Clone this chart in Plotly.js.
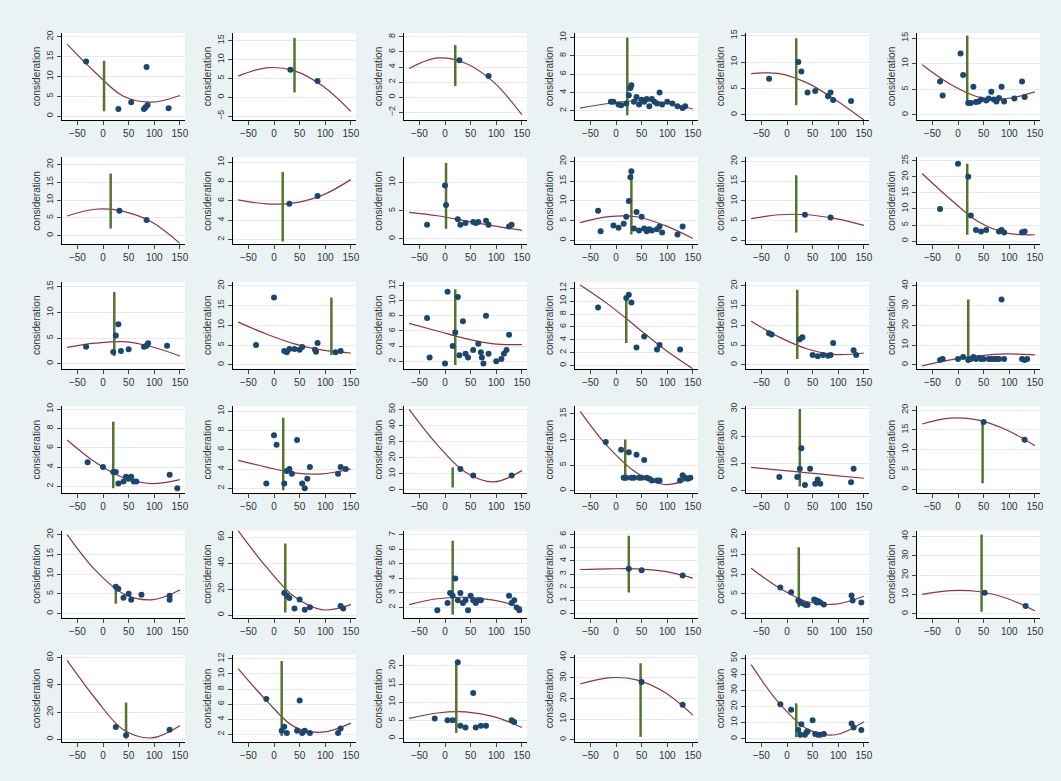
<!DOCTYPE html>
<html>
<head>
<meta charset="utf-8">
<script src="https://cdn.plot.ly/plotly-3.0.1.min.js"></script>
<style>body{margin:0;background:#eaf2f3}</style>
</head>
<body>
<div id="plot" style="width:1061px;height:781px"></div>
<script>
// x positions where the fitted curve was read
const curveX = [-70, -15, 40, 95, 150];

// one entry per panel: y range, tick step, points, vertical line [x, y0, y1], curve y values
const yRanges = [
  [-1,21],[-6,17],[-3,8.5],[1,10.5],[-1,15.5],[-1,16],
  [-2.5,22],[1.5,10.5],[-1,14.5],[-1,21],[-1,21],[-1,26],
  [-1,16],[-1,21],[1,12.5],[-0.5,13],[-1,21],[-2,42],
  [1.3,10.3],[1.5,10.5],[-2,52],[-0.5,16.5],[-1,31],[-1,21],
  [-1,21],[-2,65],[1.3,7.3],[-0.3,6.3],[-1,21],[-2,43],
  [-2,62],[1,12.5],[-1,23],[-1,41],[-2,52]
];
const yTicks = [5,5,2,2,5,5, 5,2,5,5,5,5, 5,5,2,2,5,10, 2,2,10,5,10,5, 5,20,1,1,5,10, 20,2,5,10,10];

const points = [
  [[-33,13.8],[30,1.8],[55,3.5],[80,1.8],[83,2.2],[85,12.4],[87,2.8],[128,2]],
  [[32,7.3],[85,4.3]],
  [[28,4.9],[85,2.8]],
  [[-10,3],[-5,3],[5,2.7],[10,2.6],[20,2.8],[25,3.7],[28,4.5],[30,4.8],[35,3],[40,3.5],[45,2.7],[50,3.2],[55,3],[60,3.3],[65,2.5],[70,3.3],[75,3],[80,2.8],[85,4],[90,2.7],[100,3],[110,2.8],[120,2.5],[130,2.3],[135,2.5]],
  [[-35,6.8],[22,10],[28,8.2],[40,4.2],[55,4.5],[80,3.5],[85,4.2],[90,2.8],[125,2.6]],
  [[-35,6.5],[-30,3.8],[5,12],[10,7.8],[20,2.3],[25,2.3],[30,5.5],[35,2.5],[40,2.6],[45,3],[55,2.8],[60,3.2],[65,4.5],[70,3],[75,2.6],[80,3.3],[85,5.5],[90,2.6],[110,3.2],[125,6.5],[130,3.5]],
  [[32,7],[85,4.4]],
  [[30,5.7],[85,6.5]],
  [[-35,2.5],[0,9.5],[2,6],[25,3.5],[30,2.5],[40,2.8],[55,3],[60,2.8],[65,3],[80,3.2],[85,2.5],[125,2.2],[130,2.5]],
  [[-35,7.5],[-30,2.3],[-5,3.8],[5,3.2],[15,4.2],[20,6],[25,10],[28,16],[30,17.5],[35,3],[40,7.2],[45,2.5],[50,6],[55,3],[60,2.3],[65,2.8],[70,2.5],[80,2.8],[85,3.5],[90,2],[120,1.5],[130,3.5]],
  [[35,6.5],[85,5.8]],
  [[-35,10],[0,24],[20,20],[25,8],[35,3.5],[45,3],[55,3.5],[80,3],[85,3.5],[90,2.7],[125,2.8],[130,3]],
  [[-33,3.3],[20,2.3],[25,5.5],[30,7.7],[35,2.5],[50,2.8],[80,3.3],[85,3.5],[88,4],[125,3.5]],
  [[-35,5],[0,17],[20,3.5],[25,3.2],[30,4],[40,4],[50,3.8],[55,4.5],[80,3.8],[82,3.3],[85,5.5],[120,3.2],[130,3.5]],
  [[-35,7.7],[-30,2.5],[0,1.7],[5,11.2],[15,4],[20,5.8],[25,10.5],[28,2.8],[35,7.3],[40,3],[45,2.5],[55,3.5],[65,4.3],[70,3.2],[72,2.5],[75,1.7],[80,8],[85,3],[100,2],[110,2.3],[115,3],[120,3.5],[125,5.5]],
  [[-35,9],[20,10.5],[25,11],[30,9.8],[40,2.8],[55,4.5],[80,2.5],[85,3.2],[125,2.5]],
  [[-35,8],[-30,7.7],[25,6.5],[30,7],[50,2.5],[60,2.2],[70,2.5],[80,2.3],[85,2.5],[90,5.5],[130,3.7],[135,2.5]],
  [[-35,2.5],[-30,3],[0,3],[10,4],[20,2.5],[25,3],[30,4],[35,3],[40,3.5],[45,3],[50,3],[60,3],[65,3],[70,3],[75,3],[80,3],[85,33],[90,3],[125,3],[130,2.5],[135,3]],
  [[-30,4.5],[0,4],[20,3.5],[25,3.5],[30,2.3],[40,2.5],[45,3],[50,2.8],[55,3],[60,2.5],[65,2.5],[130,3.2],[145,1.8]],
  [[-15,2.5],[0,7.5],[5,6.5],[20,2.5],[25,3.8],[30,4],[35,3.5],[45,7],[55,2.5],[60,2],[65,3],[70,4.2],[125,3.5],[130,4.2],[140,4]],
  [[30,13],[55,9],[130,9]],
  [[-20,9.5],[10,8],[15,2.5],[20,2.5],[25,7.5],[30,2.5],[35,2.5],[40,7],[45,2.5],[50,2.5],[55,6],[60,2.5],[65,2.3],[70,2],[80,2],[85,2],[125,2],[130,3],[135,2.5],[140,2.3],[145,2.5]],
  [[-15,5],[20,5],[25,8],[28,15.5],[35,2],[45,8],[55,2.5],[60,4],[65,2.5],[125,3],[130,8]],
  [[50,17],[130,12.5]],
  [[25,6.8],[30,6.3],[40,4],[50,5],[55,3.5],[75,4.8],[130,4.5],[130,3.5]],
  [[20,17],[25,15],[30,13],[40,5],[50,12],[60,4],[70,6],[130,7],[135,5]],
  [[-15,1.8],[5,2.3],[10,3],[15,2.8],[20,4],[25,2.5],[30,3],[35,2.3],[40,2.5],[45,1.8],[50,2.8],[55,2.5],[60,2.3],[65,2.5],[70,2.5],[125,2.8],[130,2.3],[135,2.5],[140,2],[145,1.8]],
  [[25,3.4],[50,3.3],[130,2.9]],
  [[-13,6.6],[8,5.4],[22,3.3],[25,2.8],[28,2.7],[35,2.3],[38,2.2],[40,2.2],[53,3.6],[56,3.4],[58,2.8],[60,3.2],[62,3],[65,2.8],[72,2.3],[126,4.6],[128,3.3],[145,2.8]],
  [[52,10.8],[132,4]],
  [[25,9],[45,3],[130,7]],
  [[-15,6.7],[15,2.5],[20,3],[25,2.2],[45,2.5],[50,6.5],[55,2.2],[60,2.5],[70,2.2],[125,2.2],[130,2.8]],
  [[-20,5.5],[5,5],[15,5],[25,21],[30,3.5],[40,3],[55,12.5],[60,3],[70,3.5],[80,3.5],[130,5],[135,4.5]],
  [[50,28],[130,17]],
  [[-13,21.5],[8,18],[22,5.5],[28,9],[26,2.5],[35,2.5],[38,4],[40,4.5],[50,11.5],[55,3],[60,2.5],[65,2.5],[72,3],[126,9.5],[130,7],[145,5.5]]
];

const vlines = [
  [2,1.2,14],[40,1.3,15.7],[20,1.5,6.9],[22,1.5,10],[18,1.8,14.5],[18,2.5,15.5],
  [15,2,17.5],[17,1.8,9],[2,1.8,13.5],[30,1.5,18],[18,2,16.5],[18,2,24],
  [22,1.5,14],[112,2.5,17],[20,1.5,11.5],[20,3.5,10.5],[20,1.5,19],[20,1.5,33],
  [20,1.8,8.7],[18,1.8,9.3],[15,1.5,14],[18,2,10],[25,1.5,30],[48,1.5,17.5],
  [25,2.5,7],[22,2,55],[15,1.5,6.6],[25,1.6,5.9],[23,1.6,16.8],[46,1,41],
  [45,0.5,27],[15,1.8,11.7],[22,1.5,21],[48,1.5,37],[18,1,22]
];

const curves = [
  [18.2,11,5,3.5,5.2],[5.6,7.8,7,3,-3.7],[3.8,5.2,4.5,2,-2.3],[2.3,2.8,3.1,2.9,2.2],[7.8,7.8,6,2.8,-1],[9.8,6,3.5,3.2,4.5],
  [5.5,7.4,6.8,3.8,-2.2],[6.1,5.7,5.8,6.6,8.2],[4.7,4.1,3.2,2.3,1.5],[4.5,6,6,3.8,0.5],[5.5,6.5,6.5,5.5,3.8],[21,13,6,2.5,2],
  [3.2,4,4.3,3.3,1.5],[10.8,7.8,5.3,3.7,3],[7,6,5,4.3,4.2],[12.5,9.5,6,2.5,-0.5],[11,7,4,2.6,3],[-0.5,2.5,4.5,5.5,5],
  [6.8,4.5,2.9,2.3,2.7],[4.9,4.2,3.6,3.5,4],[50,28,11,5,12],[15.5,8.5,3.5,1.2,2.5],[8.5,7.5,6.5,5.5,4.5],[16.5,18,17.5,15,11],
  [20,11,5,3.5,6],[65,37,14,4,8],[2.2,2.6,2.7,2.5,2],[3.35,3.4,3.4,3.2,2.7],[11.5,6.5,3,2.4,4.4],[10,12,11.5,8,1.5],
  [58,30,7,1,10],[10.7,6.5,3,2.3,3.5],[5.5,7,7.3,6,3],[27,30,29,23,12],[46,22,6,2.5,10.5]
];

const W = 1061, H = 781;
const data = [];
const layout = {
  width: W, height: H,
  margin: {t: 0, r: 0, b: 0, l: 0},
  paper_bgcolor: '#eaf2f3',
  plot_bgcolor: '#ffffff',
  showlegend: false,
  font: {family: 'Liberation Sans, Arial, sans-serif', size: 10, color: '#333'}
};

for (let i = 0; i < points.length; i++) {
  const r = Math.floor(i / 6), c = i % 6;
  const n = i + 1;
  const xa = 'x' + (n === 1 ? '' : n), ya = 'y' + (n === 1 ? '' : n);
  const left = 62 + 171 * c, right = 185 + 171 * c;
  const top = 33 + 124.4 * r, bottom = 120 + 124.4 * r;

  layout['xaxis' + (n === 1 ? '' : n)] = {
    domain: [left / W, right / W], anchor: ya,
    range: [-80, 160], tickvals: [-50, 0, 50, 100, 150],
    ticks: 'outside', ticklen: 4, showline: true, linecolor: '#000', linewidth: 1,
    showgrid: false, zeroline: false, tickfont: {size: 10}
  };
  layout['yaxis' + (n === 1 ? '' : n)] = {
    domain: [1 - bottom / H, 1 - top / H], anchor: xa,
    range: yRanges[i], dtick: yTicks[i], tick0: 0,
    ticks: 'outside', ticklen: 4, tickangle: -90, showline: true, linecolor: '#000', linewidth: 1,
    showgrid: true, gridcolor: '#e6ecee', zeroline: false, tickfont: {size: 9},
    title: {text: 'consideration', font: {size: 10}, standoff: 2}
  };

  data.push({
    x: curveX, y: curves[i], xaxis: xa, yaxis: ya,
    mode: 'lines', type: 'scatter', line: {color: '#90353b', width: 1.2, shape: 'spline'}
  });
  data.push({
    x: [vlines[i][0], vlines[i][0]], y: [vlines[i][1], vlines[i][2]], xaxis: xa, yaxis: ya,
    mode: 'lines', type: 'scatter', line: {color: '#55752f', width: 2.5}
  });
  data.push({
    x: points[i].map(p => p[0]), y: points[i].map(p => p[1]), xaxis: xa, yaxis: ya,
    mode: 'markers', type: 'scatter', marker: {color: '#1a476f', size: 6}
  });
}

Plotly.newPlot('plot', data, layout, {staticPlot: true});
</script>
</body>
</html>
